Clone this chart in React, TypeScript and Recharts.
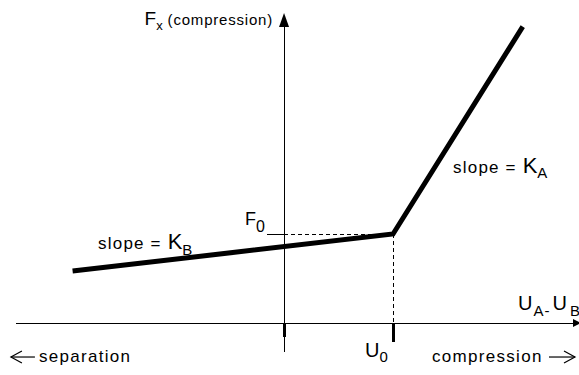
import { ComposedChart, Line, XAxis, YAxis, ReferenceLine, ReferenceDot } from "recharts";

// relative displacement U_A - U_B (scaled so U0 = 1)
const displacement = [-1.94, 1, 2.19];
// contact force F_x (scaled so F0 = 1)
const force = [0.584, 1, 3.33];

const U0 = 1;
const F0 = 1;

// extent of the drawn axes, in the same units
const axisU = [-2.46, 2.706];
const axisF = [-0.326, 3.33];
const axisTipF = 3.483;

const X_DOMAIN: [number, number] = [-2.606, 2.706];
const Y_DOMAIN: [number, number] = [-0.584, 3.629];

const data = displacement.map((u, i) => ({ u, f: force[i] }));

const FONT = "'Liberation Sans', Arial, sans-serif";

type Piece = { t: string; size: number; dy?: number; dx?: number; ls?: number };

function Note({
  cx, cy, dx, dy, anchor = "start", pieces,
}: { cx: number; cy: number; dx: number; dy: number; anchor?: "start" | "end"; pieces: Piece[] }) {
  return (
    <text x={cx + dx} y={cy + dy} textAnchor={anchor} fontFamily={FONT} fill="#000">
      {pieces.map((p, i) => (
        <tspan key={i} fontSize={p.size} dx={p.dx ?? 0} dy={p.dy ?? 0} letterSpacing={p.ls ?? 0}>
          {p.t}
        </tspan>
      ))}
    </text>
  );
}

const label = (dx: number, dy: number, pieces: Piece[], anchor: "start" | "end" = "start") =>
  (p: any) => <Note cx={p.cx} cy={p.cy} dx={dx} dy={dy} anchor={anchor} pieces={pieces} />;

// open-headed arrow used beside the direction captions
function Arrow({ x, y, len, dir }: { x: number; y: number; len: number; dir: 1 | -1 }) {
  const tip = dir > 0 ? x + len : x;
  const tail = dir > 0 ? x : x + len;
  return (
    <g stroke="#000" strokeWidth={1.2} fill="none">
      <line x1={tail} y1={y} x2={tip} y2={y} />
      <polyline points={`${tip - dir * 11},${y - 6} ${tip},${y} ${tip - dir * 11},${y + 6}`} />
    </g>
  );
}

const upArrow = (p: any) => (
  <polygon points={`${p.cx},${p.cy} ${p.cx - 5},${p.cy + 14} ${p.cx + 5},${p.cy + 14}`} fill="#000" />
);
const rightArrow = (p: any) => (
  <polygon points={`${p.cx + 2},${p.cy} ${p.cx - 6},${p.cy - 4} ${p.cx - 6},${p.cy + 4}`} fill="#000" />
);

const separationCaption = (p: any) => (
  <g>
    <Arrow x={p.cx - 5} y={p.cy + 34} len={24} dir={-1} />
    <Note cx={p.cx} cy={p.cy} dx={23} dy={39} pieces={[{ t: "separation", size: 17, ls: 1.3 }]} />
  </g>
);
const compressionCaption = (p: any) => (
  <g>
    <Note cx={p.cx} cy={p.cy} dx={-147} dy={39} pieces={[{ t: "compression", size: 17, ls: 1.3 }]} />
    <Arrow x={p.cx - 30} y={p.cy + 34} len={26} dir={1} />
  </g>
);

export default function App() {
  return (
    <div style={{ position: "absolute", left: 0, top: 0, background: "#fff" }}>
      <ComposedChart width={579} height={375} data={data} margin={{ top: 0, right: 0, bottom: 0, left: 0 }}>
        <XAxis dataKey="u" type="number" scale="linear" domain={X_DOMAIN} allowDataOverflow hide />
        <YAxis type="number" scale="linear" domain={Y_DOMAIN} allowDataOverflow hide />

        {/* axes */}
        <ReferenceLine segment={[{ x: axisU[0], y: 0 }, { x: axisU[1], y: 0 }]} stroke="#000" strokeWidth={1} shapeRendering="crispEdges" />
        <ReferenceLine segment={[{ x: 0, y: axisF[0] }, { x: 0, y: axisF[1] }]} stroke="#000" strokeWidth={1} shapeRendering="crispEdges" />
        <ReferenceDot x={0} y={axisTipF} r={0} shape={upArrow} />
        <ReferenceDot x={axisU[1]} y={0} r={0} shape={rightArrow} />

        {/* ticks at origin and U0 */}
        <ReferenceLine segment={[{ x: 0, y: 0 }, { x: 0, y: -0.157 }]} stroke="#000" strokeWidth={3} shapeRendering="crispEdges" />
        <ReferenceLine segment={[{ x: U0, y: 0 }, { x: U0, y: -0.213 }]} stroke="#000" strokeWidth={3} shapeRendering="crispEdges" />

        {/* F0 / U0 guides */}
        <ReferenceLine segment={[{ x: -0.156, y: F0 }, { x: 0, y: F0 }]} stroke="#000" strokeWidth={1} shapeRendering="crispEdges" />
        <ReferenceLine segment={[{ x: 0, y: F0 }, { x: U0, y: F0 }]} stroke="#000" strokeWidth={1} strokeDasharray="4 3" shapeRendering="crispEdges" />
        <ReferenceLine segment={[{ x: U0, y: F0 }, { x: U0, y: 0 }]} stroke="#000" strokeWidth={1} strokeDasharray="4 3" shapeRendering="crispEdges" />

        <Line type="linear" dataKey="f" stroke="#000" strokeWidth={5} strokeLinecap="butt" dot={false} activeDot={false} isAnimationActive={false} />

        {/* annotations */}
        <ReferenceDot x={0} y={axisTipF} r={0} shape={label(-11, 12, [
          { t: "F", size: 19 }, { t: "x", size: 13, dy: 5 }, { t: " (compression)", size: 15, dy: -5, ls: 0.8 },
        ], "end")} />
        <ReferenceDot x={0} y={F0} r={0} shape={label(-39, -9, [
          { t: "F", size: 18 }, { t: "0", size: 16, dy: 7 },
        ])} />
        <ReferenceDot x={U0} y={F0} r={0} shape={label(-295, 15, [
          { t: "slope = ", size: 17, ls: 1.2 }, { t: "K", size: 22 }, { t: "B", size: 15, dy: 6 },
        ])} />
        <ReferenceDot x={U0} y={F0} r={0} shape={label(60, -61, [
          { t: "slope = ", size: 17, ls: 1.2 }, { t: "K", size: 22 }, { t: "A", size: 15, dy: 5 },
        ])} />
        <ReferenceDot x={axisU[1]} y={0} r={0} shape={label(-61, -13, [
          { t: "U", size: 20 }, { t: "A", size: 15, dx: 1, dy: 6 }, { t: "-", size: 15, dx: 1 },
          { t: "U", size: 20, dx: 3, dy: -6 }, { t: "B", size: 15, dx: 3, dy: 6 },
        ])} />
        <ReferenceDot x={U0} y={0} r={0} shape={label(-28, 34, [
          { t: "U", size: 20 }, { t: "0", size: 15, dy: 5 },
        ])} />
        <ReferenceDot x={axisU[0]} y={0} r={0} shape={separationCaption} />
        <ReferenceDot x={axisU[1]} y={0} r={0} shape={compressionCaption} />
      </ComposedChart>
    </div>
  );
}
